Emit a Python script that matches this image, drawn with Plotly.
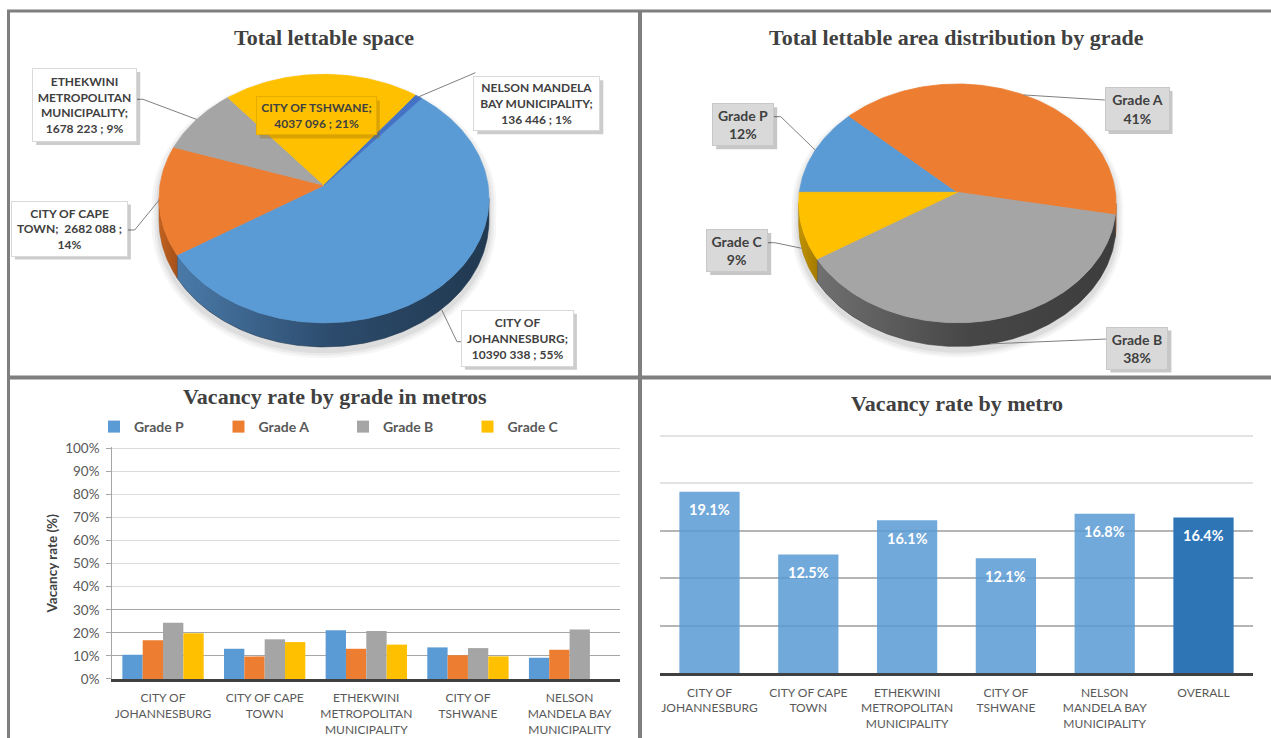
import math
import plotly.graph_objects as go

W, H = 1271, 738

# ---------------- data ----------------
pie_metros = ["CITY OF JOHANNESBURG", "CITY OF CAPE TOWN",
              "ETHEKWINI METROPOLITAN MUNICIPALITY", "CITY OF TSHWANE",
              "NELSON MANDELA BAY MUNICIPALITY"]
lettable_space = [10390338, 2682088, 1678223, 4037096, 136446]

grades = ["Grade P", "Grade A", "Grade B", "Grade C"]
grade_share = [12, 41, 38, 9]

grade_metro_ticks = ["CITY OF<br>JOHANNESBURG", "CITY OF CAPE<br>TOWN",
                     "ETHEKWINI<br>METROPOLITAN<br>MUNICIPALITY",
                     "CITY OF<br>TSHWANE", "NELSON<br>MANDELA BAY<br>MUNICIPALITY"]
vac_grade_p = [10.5, 13.1, 21.1, 13.7, 9.2]
vac_grade_a = [16.8, 9.8, 13.1, 10.3, 12.7]
vac_grade_b = [24.4, 17.2, 20.8, 13.4, 21.5]
vac_grade_c = [19.8, 16.0, 14.9, 9.8, None]

metro_ticks = grade_metro_ticks + ["OVERALL"]
metro_vacancy = [19.1, 12.5, 16.1, 12.1, 16.8, 16.4]

# ---------------- helpers ----------------
def px(x):
    return x / W


def py(y):
    return 1 - y / H


FONT = "Lato"
SERIF = "Liberation Serif"
GREY_TXT = "#595959"
DARK_TXT = "#404040"


def spans(values, start):
    total = float(sum(values))
    out, a = [], start
    for v in values:
        b = a + 360.0 * v / total
        out.append((a, b))
        a = b
    return out


def rim(pie, theta, drop=0.0):
    t = math.radians(theta)
    s = 1.0 / (1.0 + pie["p"] * math.cos(t))
    x = pie["cx"] + pie["r"] * math.sin(t) * s
    y = pie["cy"] - pie["r"] * pie["k"] * math.cos(t) * s + drop * s
    return x, y


def arc(pie, a, b, drop=0.0, step=1.0):
    n = max(2, int(abs(b - a) / step) + 1)
    return [rim(pie, a + (b - a) * i / (n - 1), drop) for i in range(n)]


def visible_side(pie, a, b):
    lo = math.degrees(math.acos(-pie["p"]))
    hi = 360 - lo
    parts = []
    for off in (-360, 0, 360):
        s0, s1 = max(a, lo + off), min(b, hi + off)
        if s1 > s0:
            parts.append((s0, s1))
    return parts


fig = go.Figure()


def draw_pie(pie, values, start, top_colors, side_colors):
    sp = spans(values, start)
    # soft shadow around the pie body
    lo = math.degrees(math.acos(-pie["p"]))
    sil = []
    for i in range(361):
        th = float(i)
        d = pie["depth"] if lo <= th <= 360 - lo else 0.0
        sil.append(rim(pie, th, d))
    for grow, alpha in ((1.045, 0.035), (1.03, 0.045), (1.015, 0.06)):
        xs = [pie["cx"] + (x - pie["cx"]) * grow for x, _ in sil]
        ys = [pie["cy"] + 4 + (y - pie["cy"]) * grow for _, y in sil]
        fig.add_trace(go.Scatter(x=xs, y=ys, mode="lines", fill="toself",
                                 fillcolor=f"rgba(0,0,0,{alpha})",
                                 line=dict(width=0), hoverinfo="skip",
                                 showlegend=False, xaxis="x", yaxis="y"))
    # side walls
    for (a, b), cols in zip(sp, side_colors):
        for s0, s1 in visible_side(pie, a, b):
            top = arc(pie, s0, s1)
            bot = arc(pie, s1, s0, pie["depth"])
            pts = top + bot + [top[0]]
            fig.add_trace(go.Scatter(
                x=[p[0] for p in pts], y=[p[1] for p in pts], mode="lines",
                fill="toself", line=dict(width=0.6, color=cols[-1]),
                fillgradient=dict(type="horizontal",
                                  colorscale=[[i / (len(cols) - 1), c]
                                              for i, c in enumerate(cols)]),
                hoverinfo="skip", showlegend=False, xaxis="x", yaxis="y"))
    # top faces
    for (a, b), col in zip(sp, top_colors):
        pts = [(pie["cx"], pie["cy"])] + arc(pie, a, b) + [(pie["cx"], pie["cy"])]
        fig.add_trace(go.Scatter(
            x=[p[0] for p in pts], y=[p[1] for p in pts], mode="lines",
            fill="toself", fillcolor=col, line=dict(width=0.8, color=col),
            hoverinfo="skip", showlegend=False, xaxis="x", yaxis="y"))
    return sp


def label_box(cx, cy, w, h, text, size, bg, border, shadow):
    # drop shadow behind the callout box
    fig.add_shape(type="rect", xref="x", yref="y",
                  x0=cx - w / 2 + 3, x1=cx + w / 2 + 4,
                  y0=cy - h / 2 + 3, y1=cy + h / 2 + 4,
                  fillcolor=shadow, line=dict(width=0), layer="above")
    fig.add_annotation(x=cx, y=cy, xref="x", yref="y", text=text,
                       showarrow=False, width=w, height=h, borderpad=0,
                       bgcolor=bg, bordercolor=border, borderwidth=1,
                       font=dict(family=FONT, size=size, color=DARK_TXT,
                                 weight="bold"))


def leader(pie, span, attach, elbow=None):
    a, b = span
    mid = (a + b) / 2
    drop = pie["depth"] if math.cos(math.radians(mid)) < -0.2 else 0.0
    end = rim(pie, mid, drop)
    pts = [attach] + ([elbow] if elbow else []) + [end]
    fig.add_trace(go.Scatter(x=[p[0] for p in pts], y=[p[1] for p in pts],
                             mode="lines", line=dict(color="#7f7f7f", width=1),
                             hoverinfo="skip", showlegend=False,
                             xaxis="x", yaxis="y"))


# ---------------- pie 1: total lettable space ----------------
pie1 = dict(cx=324, cy=185.3, r=164, k=0.749, p=0.107, depth=21.5)
pie_top = ["#5b9bd5", "#ed7d31", "#a5a5a5", "#ffc000", "#4472c4"]
pie_side = [["#4a7aa9", "#2c4b6c", "#213950"], ["#c2621f", "#a4511a"],
            ["#7c7c7c", "#5e5e5e"], ["#bf9000", "#a37b00"], ["#33569a", "#2a4680"]]
sp1 = draw_pie(pie1, lettable_space, 40, pie_top, pie_side)

total1 = sum(lettable_space)


def fmt_space(v):
    return f"{v // 1000} {v % 1000:03d}"


name_wrapped = ["CITY OF<br>JOHANNESBURG", "CITY OF CAPE<br>TOWN",
                "ETHEKWINI<br>METROPOLITAN<br>MUNICIPALITY", "CITY OF TSHWANE",
                "NELSON MANDELA<br>BAY MUNICIPALITY"]
sep_name = [";<br>", ";  ", ";<br>", ";<br>", ";<br>"]
sep_val = [" ; ", " ;<br>", " ; ", " ; ", " ; "]
pie1_text = [f"{n}{s1}{fmt_space(v)}{s2}{round(100 * v / total1)}%"
             for n, s1, v, s2 in zip(name_wrapped, sep_name, lettable_space, sep_val)]

# box: centre x, centre y, width, height, leader attach, elbow
pie1_boxes = [
    (517.4, 338.3, 111, 55, (461.2, 341.7), (457.0, 341.7)),
    (69.4, 228.5, 115, 54, (127.3, 230.0), (134.7, 230.0)),
    (84.7, 105.0, 103, 72, (136.7, 99.3), (143.0, 99.3)),
    (316.3, 115.9, 119, 37, None, None),
    (536.8, 103.7, 125, 53, (475.5, 72.7), None),
]
for i, (bx, by, bw, bh, att, elb) in enumerate(pie1_boxes):
    if att is not None:
        leader(pie1, sp1[i], att, elb)
for i, (bx, by, bw, bh, att, elb) in enumerate(pie1_boxes):
    if att is None:
        label_box(bx, by, bw, bh, pie1_text[i], 12, pie_top[i], "#e6ad00",
                  "rgba(150,110,0,0.35)")
    else:
        label_box(bx, by, bw, bh, pie1_text[i], 12, "#ffffff", "#d9d9d9",
                  "rgba(0,0,0,0.2)")

# ---------------- pie 2: distribution by grade ----------------
pie2 = dict(cx=957.4, cy=192.3, r=158, k=0.749, p=0.093, depth=21.5)
grade_top = ["#5b9bd5", "#ed7d31", "#a5a5a5", "#ffc000"]
grade_side = [["#3f6f9c", "#2c4b6c"], ["#b35a1f", "#9a4c18"],
              ["#707070", "#474747", "#3d3d3d"], ["#c29200", "#a37b00"]]
sp2 = draw_pie(pie2, grade_share, 270, grade_top, grade_side)

pie2_boxes = [
    (743.2, 124.7, 60, 41, (774.0, 116.7), (780.8, 116.7)),
    (1137.0, 109.0, 63, 42, (1104.8, 100.0), None),
    (1137.4, 348.0, 60, 41, (1106.8, 339.0), None),
    (737.2, 250.5, 60, 41, (768.0, 242.7), (774.8, 242.7)),
]
total2 = sum(grade_share)
for i, (bx, by, bw, bh, att, elb) in enumerate(pie2_boxes):
    leader(pie2, sp2[i], att, elb)
for i, (bx, by, bw, bh, att, elb) in enumerate(pie2_boxes):
    txt = f"{grades[i]}<br>{round(100 * grade_share[i] / total2)}%"
    label_box(bx, by, bw, bh, txt, 14, "#d9d9d9", "#c8c8c8", "rgba(0,0,0,0.22)")

# ---------------- bar chart: vacancy by grade ----------------
grade_colors = ["#5b9bd5", "#ed7d31", "#a5a5a5", "#ffc000"]
for name, vals, col in zip(grades, [vac_grade_p, vac_grade_a, vac_grade_b, vac_grade_c],
                           grade_colors):
    fig.add_trace(go.Bar(x=grade_metro_ticks, y=vals, name=name,
                         marker=dict(color=col, line=dict(width=0)),
                         xaxis="x2", yaxis="y2", hoverinfo="skip"))
# empty trace that activates the darker lower gridlines
fig.add_trace(go.Scatter(x=grade_metro_ticks, y=[None] * len(grade_metro_ticks),
                         mode="lines", showlegend=False, hoverinfo="skip",
                         xaxis="x2", yaxis="y4"))

# ---------------- bar chart: vacancy by metro ----------------
metro_colors = ["rgba(91,155,213,0.86)"] * (len(metro_vacancy) - 1) + ["#2e75b6"]
fig.add_trace(go.Bar(x=metro_ticks, y=metro_vacancy, width=0.61,
                     marker=dict(color=metro_colors, line=dict(width=0)),
                     showlegend=False, xaxis="x3", yaxis="y3", hoverinfo="skip"))
fig.add_trace(go.Scatter(x=metro_ticks, y=[None] * len(metro_ticks),
                         mode="lines", showlegend=False, hoverinfo="skip",
                         xaxis="x3", yaxis="y5"))
for cat, v in zip(metro_ticks, metro_vacancy):
    fig.add_annotation(x=cat, y=v, xref="x3", yref="y3", text=f"{v:.1f}%",
                       showarrow=False, yanchor="middle", yshift=-18,
                       font=dict(family=FONT, size=14.5, color="white",
                                 weight="bold"))

# ---------------- layout ----------------
tick_font = dict(family=FONT, size=12, color=GREY_TXT)
g1_dom = [py(679), py(679 - 100.5 * 2.307)]
g2_dom = [py(673.3), py(673.3 - 25.2 * 9.504)]
fig.update_layout(
    width=W, height=H, margin=dict(l=0, r=0, t=0, b=0, autoexpand=False),
    paper_bgcolor="white", plot_bgcolor="rgba(0,0,0,0)",
    barmode="group", bargap=0.2, bargroupgap=0,
    xaxis=dict(domain=[0, 1], range=[0, W], visible=False, fixedrange=True,
               automargin=False),
    yaxis=dict(domain=[0, 1], range=[H, 0], visible=False, fixedrange=True,
               automargin=False),
    xaxis2=dict(domain=[px(112.2), px(620.4)], anchor="y2", showgrid=False,
                showline=True, linecolor="#404040", linewidth=3, ticks="",
                tickfont=tick_font, ticklabelstandoff=6, fixedrange=True,
                automargin=False),
    yaxis2=dict(domain=g1_dom, anchor="x2", range=[0, 100.5],
                tickmode="linear", tick0=0, dtick=10, ticksuffix="%",
                showgrid=True, gridcolor="#dcdcdc", gridwidth=1.3,
                zeroline=False, showline=True, linecolor="#a6a6a6",
                ticks="outside", ticklen=5, tickcolor="#a6a6a6",
                tickfont=dict(family=FONT, size=13.5, color=GREY_TXT),
                ticklabelstandoff=4, fixedrange=True, automargin=False),
    yaxis4=dict(domain=g1_dom, anchor="x2", overlaying="y2",
                range=[0, 100.5], tickvals=[10, 20, 30], showticklabels=False,
                showgrid=True, gridcolor="#a6a6a6", gridwidth=1.3,
                zeroline=False, showline=False, ticks="", fixedrange=True,
                automargin=False),
    xaxis3=dict(domain=[px(660.1), px(1252.9)], anchor="y3", showgrid=False,
                showline=True, linecolor="#404040", linewidth=3, ticks="",
                tickfont=tick_font, ticklabelstandoff=6, fixedrange=True,
                automargin=False),
    yaxis3=dict(domain=g2_dom, anchor="x3", range=[0, 25.2],
                tickvals=[20, 25], showticklabels=False, showgrid=True,
                gridcolor="#e3e3e3", gridwidth=1.5, zeroline=False,
                showline=False, ticks="", fixedrange=True, automargin=False),
    yaxis5=dict(domain=g2_dom, anchor="x3", overlaying="y3",
                range=[0, 25.2], tickvals=[5, 10, 15], showticklabels=False,
                showgrid=True, gridcolor="#b5b5b5", gridwidth=1.5,
                zeroline=False, showline=False, ticks="", fixedrange=True,
                automargin=False),
    legend=dict(orientation="h", x=px(94), y=py(427), xanchor="left",
                yanchor="middle", entrywidth=79.5, entrywidthmode="pixels",
                bgcolor="rgba(0,0,0,0)", traceorder="normal",
                font=dict(family=FONT, size=14, color=GREY_TXT, weight="bold")),
    showlegend=True,
)

# chart titles
for text, cx, cy in [("Total lettable space", 324, 38),
                     ("Total lettable area distribution by grade", 956, 38),
                     ("Vacancy rate by grade in metros", 335, 396),
                     ("Vacancy rate by metro", 956.5, 403)]:
    fig.add_annotation(x=px(cx), y=py(cy), xref="paper", yref="paper",
                       text=f"<b>{text}</b>", showarrow=False,
                       xanchor="center", yanchor="middle",
                       font=dict(family=SERIF, size=22, color=DARK_TXT))

fig.add_annotation(x=px(51), y=py(563.5), xref="paper", yref="paper",
                   text="<b>Vacancy rate (%)</b>", showarrow=False, textangle=-90,
                   xanchor="center", yanchor="middle",
                   font=dict(family=FONT, size=13.5, color=DARK_TXT))

# panel frames
frame = "#7f7f7f"
for x0, y0, x1, y1, wdt in [(7, 11, W, 11, 3), (8.5, 11, 8.5, H, 3),
                            (640, 11, 640, H, 4), (7, 377.5, W, 377.5, 4)]:
    fig.add_shape(type="line", xref="paper", yref="paper",
                  x0=px(x0), y0=py(y0), x1=px(x1), y1=py(y1),
                  line=dict(color=frame, width=wdt), layer="above")

fig.write_html("out.html")
